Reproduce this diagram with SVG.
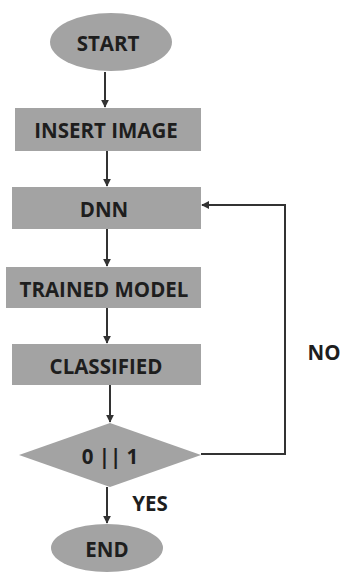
<svg xmlns="http://www.w3.org/2000/svg" width="342" height="573" viewBox="0 0 342 573">
<style>
.n{fill:#a3a3a3;}
.t{font-family:"Open Sans","Liberation Sans",sans-serif;font-weight:bold;font-size:20.5px;fill:#1e1e1e;text-anchor:middle;dominant-baseline:central;}
.c{stroke:#333;stroke-width:2;fill:none;}
</style>
<defs>
<marker id="a" viewBox="0 0 10 10" refX="9" refY="5" markerWidth="4" markerHeight="4" orient="auto"><path d="M0,0 L10,5 L0,10 z" fill="#333"/></marker>
</defs>
<rect width="342" height="573" fill="#fff"/>
<g id="connectors">
<line class="c" x1="105" y1="72" x2="105" y2="107" marker-end="url(#a)"/>
<line class="c" x1="107" y1="151" x2="107" y2="186" marker-end="url(#a)"/>
<line class="c" x1="107" y1="229" x2="107" y2="266" marker-end="url(#a)"/>
<line class="c" x1="107" y1="308" x2="107" y2="343" marker-end="url(#a)"/>
<line class="c" x1="110" y1="385" x2="110" y2="422" marker-end="url(#a)"/>
<polyline class="c" points="201,454 285,454 285,205 202,205" marker-end="url(#a)"/>
<line class="c" x1="107" y1="487" x2="107" y2="523" marker-end="url(#a)"/>
<text class="t" x="324" y="352">NO</text>
<text class="t" x="150" y="503">YES</text>
</g>
<g id="start"><ellipse class="n" cx="111" cy="42" rx="61" ry="29"/><text class="t" x="108" y="43">START</text></g>
<g id="insert"><rect class="n" x="15" y="108" width="186" height="43"/><text class="t" x="106" y="130">INSERT IMAGE</text></g>
<g id="dnn"><rect class="n" x="12" y="187" width="189" height="42"/><text class="t" x="104" y="209">DNN</text></g>
<g id="trained"><rect class="n" x="6" y="267" width="195" height="41"/><text class="t" x="104" y="289">TRAINED MODEL</text></g>
<g id="classified"><rect class="n" x="12" y="344" width="189" height="41"/><text class="t" x="106" y="366">CLASSIFIED</text></g>
<g id="decision"><polygon class="n" points="110,423 201,455 110,487 19,455"/><text class="t" x="110" y="456">0 || 1</text></g>
<g id="end"><ellipse class="n" cx="107" cy="548" rx="56" ry="24"/><text class="t" x="107" y="549">END</text></g>
</svg>
